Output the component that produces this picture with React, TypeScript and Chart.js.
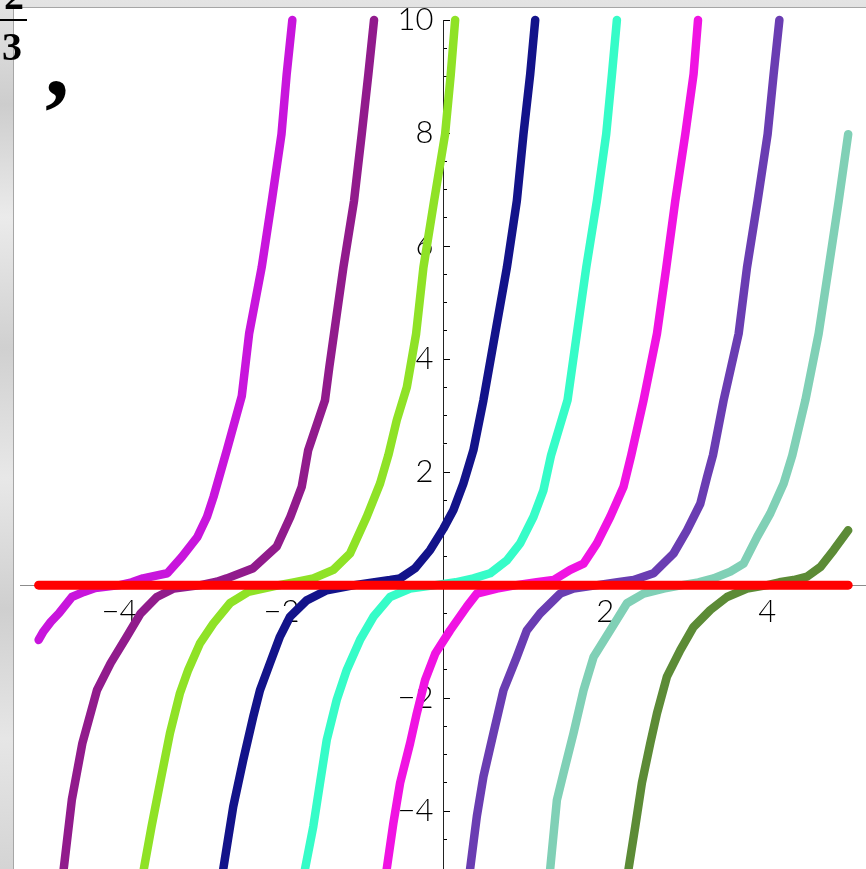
import React, { useEffect, useRef } from "react";
import { Chart, registerables } from "chart.js";

Chart.register(...registerables);

// ---- data ----
const xTickValues = [-4, -2, 2, 4];
const yMajorTicks = [-4, -2, 2, 4, 6, 8, 10];
const yMinorTicks = [-4.5, -3.5, -3, -2.5, -1.5, -1, -0.5, 0.5, 1, 1.5, 2.5, 3, 3.5, 4.5, 5, 5.5, 6.5, 7, 7.5, 8.5, 9, 9.5];

const curve1 = [[-5.0,-0.97],[-4.94,-0.82],[-4.85,-0.65],[-4.75,-0.5],[-4.59,-0.21],[-4.44,-0.12],[-4.3,-0.05],[-4.0,0.0],[-3.85,0.05],[-3.71,0.12],[-3.41,0.21],[-3.23,0.5],[-3.04,0.85],[-2.92,1.21],[-2.84,1.56],[-2.675,2.39],[-2.49,3.35],[-2.4,4.45],[-2.245,5.62],[-2.12,6.8],[-2.0,7.98],[-1.936,9.04],[-1.866,10]];
const curve2 = [[-4.69,-5.02],[-4.59,-3.8],[-4.46,-2.8],[-4.28,-1.86],[-4.11,-1.38],[-3.91,-0.91],[-3.74,-0.5],[-3.54,-0.21],[-3.33,-0.06],[-3.0,0.0],[-2.8,0.06],[-2.675,0.12],[-2.35,0.3],[-2.06,0.68],[-1.89,1.21],[-1.75,1.74],[-1.67,2.39],[-1.463,3.27],[-1.409,3.86],[-1.351,4.45],[-1.236,5.62],[-1.104,6.8],[-1.009,7.98],[-0.927,9.04],[-0.857,10]];
const curve3 = [[-3.7,-5.02],[-3.605,-4.27],[-3.5,-3.5],[-3.378,-2.62],[-3.254,-1.91],[-3.152,-1.5],[-3.007,-1.03],[-2.843,-0.68],[-2.637,-0.32],[-2.41,-0.12],[-2.1,-0.02],[-1.85,0.05],[-1.607,0.12],[-1.36,0.27],[-1.153,0.56],[-0.947,1.21],[-0.782,1.8],[-0.68,2.3],[-0.576,2.92],[-0.452,3.5],[-0.337,4.45],[-0.247,5.62],[-0.115,6.8],[0.021,7.98],[0.091,9.04],[0.145,10]];
const curve4 = [[-2.719,-5.02],[-2.596,-3.92],[-2.472,-3.09],[-2.349,-2.33],[-2.266,-1.86],[-2.142,-1.38],[-2.019,-0.91],[-1.895,-0.56],[-1.689,-0.27],[-1.441,-0.09],[-1.1,0.0],[-0.85,0.05],[-0.659,0.09],[-0.535,0.12],[-0.35,0.3],[-0.164,0.62],[0.0,1.0],[0.124,1.33],[0.247,1.8],[0.371,2.39],[0.494,3.27],[0.639,4.45],[0.784,5.62],[0.907,6.8],[0.989,7.98],[1.072,9.04],[1.134,10]];
const curve5 = [[-1.709,-5.02],[-1.607,-4.27],[-1.524,-3.5],[-1.441,-2.74],[-1.318,-2.03],[-1.194,-1.5],[-1.03,-0.97],[-0.865,-0.56],[-0.659,-0.21],[-0.412,-0.06],[-0.1,0.0],[0.15,0.05],[0.371,0.12],[0.577,0.21],[0.784,0.44],[0.948,0.74],[1.113,1.21],[1.236,1.68],[1.33,2.3],[1.533,3.27],[1.649,4.45],[1.764,5.62],[1.896,6.8],[2.011,7.98],[2.082,9.04],[2.143,10]];
const curve6 = [[-0.7,-5.02],[-0.618,-4.21],[-0.535,-3.5],[-0.412,-2.8],[-0.329,-2.27],[-0.226,-1.68],[-0.1,-1.21],[0.083,-0.8],[0.289,-0.38],[0.413,-0.15],[0.66,-0.06],[0.9,0.0],[1.15,0.05],[1.36,0.09],[1.566,0.27],[1.731,0.38],[1.896,0.74],[2.061,1.21],[2.225,1.74],[2.32,2.3],[2.472,3.27],[2.638,4.45],[2.753,5.62],[2.864,6.8],[2.988,7.98],[3.09,9.04],[3.145,10]];
const curve7 = [[0.33,-5.02],[0.413,-4.09],[0.494,-3.39],[0.618,-2.62],[0.742,-1.86],[0.907,-1.27],[1.031,-0.8],[1.195,-0.5],[1.443,-0.15],[1.607,-0.06],[1.9,0.0],[2.15,0.05],[2.349,0.09],[2.596,0.21],[2.843,0.56],[3.009,0.97],[3.173,1.44],[3.256,1.91],[3.33,2.3],[3.461,3.27],[3.647,4.45],[3.75,5.62],[3.881,6.8],[4.005,7.98],[4.079,9.04],[4.15,10]];
const curve8 = [[1.319,-5.02],[1.402,-3.8],[1.483,-3.33],[1.607,-2.62],[1.731,-1.86],[1.855,-1.27],[2.061,-0.8],[2.267,-0.32],[2.472,-0.15],[2.719,-0.06],[2.95,0.0],[3.15,0.05],[3.337,0.12],[3.544,0.24],[3.708,0.38],[3.874,0.85],[4.038,1.27],[4.203,1.8],[4.31,2.3],[4.471,3.27],[4.635,4.45],[4.759,5.62],[4.883,6.8],[5.0,7.98]];
const curve9 = [[2.287,-5.02],[2.37,-4.27],[2.452,-3.5],[2.555,-2.8],[2.638,-2.27],[2.761,-1.62],[2.926,-1.15],[3.09,-0.74],[3.297,-0.44],[3.503,-0.21],[3.75,-0.06],[4.0,0.0],[4.15,0.05],[4.326,0.09],[4.492,0.15],[4.656,0.32],[4.821,0.62],[5.0,0.97]];
const zeroLine = [[-5, 0], [5, 0]];

const curves = [curve1, curve2, curve3, curve4, curve5, curve6, curve7, curve8, curve9];
const curveColors = ["#c815dc", "#911b8c", "#8fe226", "#13138a", "#36fcc8", "#f013e2", "#6a3db2", "#80d0b6", "#5c8b36"];
const zeroColor = "#ff0000";

const tickFamily = "Lato, 'Open Sans', 'Liberation Sans', sans-serif";
const fmt = (v: number) => (v < 0 ? "\u2212" + Math.abs(v) : String(v));

export default function App() {
  const ref = useRef<HTMLCanvasElement | null>(null);

  useEffect(() => {
    if (!ref.current) return;
    const toPts = (arr: number[][]) => arr.map(([x, y]) => ({ x, y }));
    const datasets: any[] = [
      {
        data: toPts(zeroLine),
        showLine: true,
        borderColor: zeroColor,
        borderWidth: 9,
        pointRadius: 0,
        borderCapStyle: "round",
        clip: false,
      },
      ...curves.map((c, i) => ({
        data: toPts(c),
        showLine: true,
        borderColor: curveColors[i],
        borderWidth: 8.5,
        pointRadius: 0,
        borderCapStyle: "round",
        borderJoinStyle: "round",
        tension: 0,
        clip: false,
      })),
    ];
    const chart = new Chart(ref.current, {
      type: "scatter",
      data: { datasets },
      options: {
        animation: false,
        responsive: false,
        devicePixelRatio: 1,
        events: [],
        layout: { padding: { left: 20, right: 0, top: 20, bottom: 0 } },
        plugins: { legend: { display: false }, tooltip: { enabled: false } },
        scales: {
          x: {
            type: "linear",
            min: -5.23,
            max: 5.22,
            position: { y: 0 } as any,
            afterBuildTicks: (s: any) => {
              s.ticks = xTickValues.map((v) => ({ value: v }));
            },
            grid: { display: false, drawTicks: false },
            border: { display: true, color: "#8c8c8c", width: 1 },
            ticks: { padding: 8, font: { family: tickFamily, size: 31, weight: "300" }, color: "#000", callback: (v: any) => fmt(Number(v)), maxRotation: 0, autoSkip: false },
          },
          y: {
            type: "linear",
            min: -5.02,
            max: 10,
            position: { x: 0 } as any,
            afterBuildTicks: (s: any) => {
              s.ticks = yMajorTicks.map((v) => ({ value: v }));
            },
            grid: { display: true, drawOnChartArea: false, drawTicks: true, tickLength: -7, color: "#000", lineWidth: 1 },
            border: { display: true, color: "#222", width: 1 },
            ticks: { display: false },
          },
          yMinor: {
            type: "linear",
            min: -5.02,
            max: 10,
            position: { x: 0 } as any,
            afterBuildTicks: (s: any) => {
              s.ticks = yMinorTicks.map((v) => ({ value: v }));
            },
            grid: { display: true, drawOnChartArea: false, drawTicks: true, tickLength: -4, color: "#000", lineWidth: 1 },
            border: { display: false },
            ticks: { display: false },
          },
          yLabels: {
            type: "linear",
            min: -5.02,
            max: 10,
            position: { x: -0.123 } as any,
            afterBuildTicks: (s: any) => {
              s.ticks = yMajorTicks.map((v) => ({ value: v }));
            },
            grid: { display: false, drawTicks: false },
            border: { display: false },
            ticks: { padding: 0, font: { family: tickFamily, size: 31, weight: "300", lineHeight: 0.01 }, color: "#000", callback: (v: any) => fmt(Number(v)), autoSkip: false },
          },
        },
      },
    });
    return () => chart.destroy();
  }, []);

  const serif = "'Liberation Serif', 'DejaVu Serif', serif";
  return (
    <div
      style={{
        position: "fixed",
        left: 0,
        top: 0,
        width: 866,
        height: 869,
        overflow: "hidden",
        background: "linear-gradient(180deg, #e4e4e4 0%, #cdcdcd 12%, #ebebeb 25%, #d0d0d0 40%, #e8e8e8 55%, #cfcfcf 70%, #e6e6e6 85%, #d4d4d4 100%)",
      }}
    >
      <div
        style={{
          position: "absolute",
          left: 13,
          top: 7,
          right: 0,
          bottom: 0,
          background: "#ffffff",
          borderLeft: "1px solid #a6a6a6",
          borderTop: "1px solid #a6a6a6",
        }}
      />
      <canvas ref={ref} width={866} height={869} style={{ position: "absolute", left: 0, top: 0, width: 866, height: 869 }} />
      <div style={{ position: "absolute", left: 4, top: -24, font: `bold 40px/1 ${serif}`, color: "#000" }}>2</div>
      <div style={{ position: "absolute", left: 0, top: 19, width: 27, height: 2, background: "#000" }} />
      <div style={{ position: "absolute", left: 2, top: 27, font: `bold 40px/1 ${serif}`, color: "#000" }}>3</div>
      <div style={{ position: "absolute", left: 45, top: 14, font: `bold 97px/1 ${serif}`, color: "#000" }}>,</div>
    </div>
  );
}
